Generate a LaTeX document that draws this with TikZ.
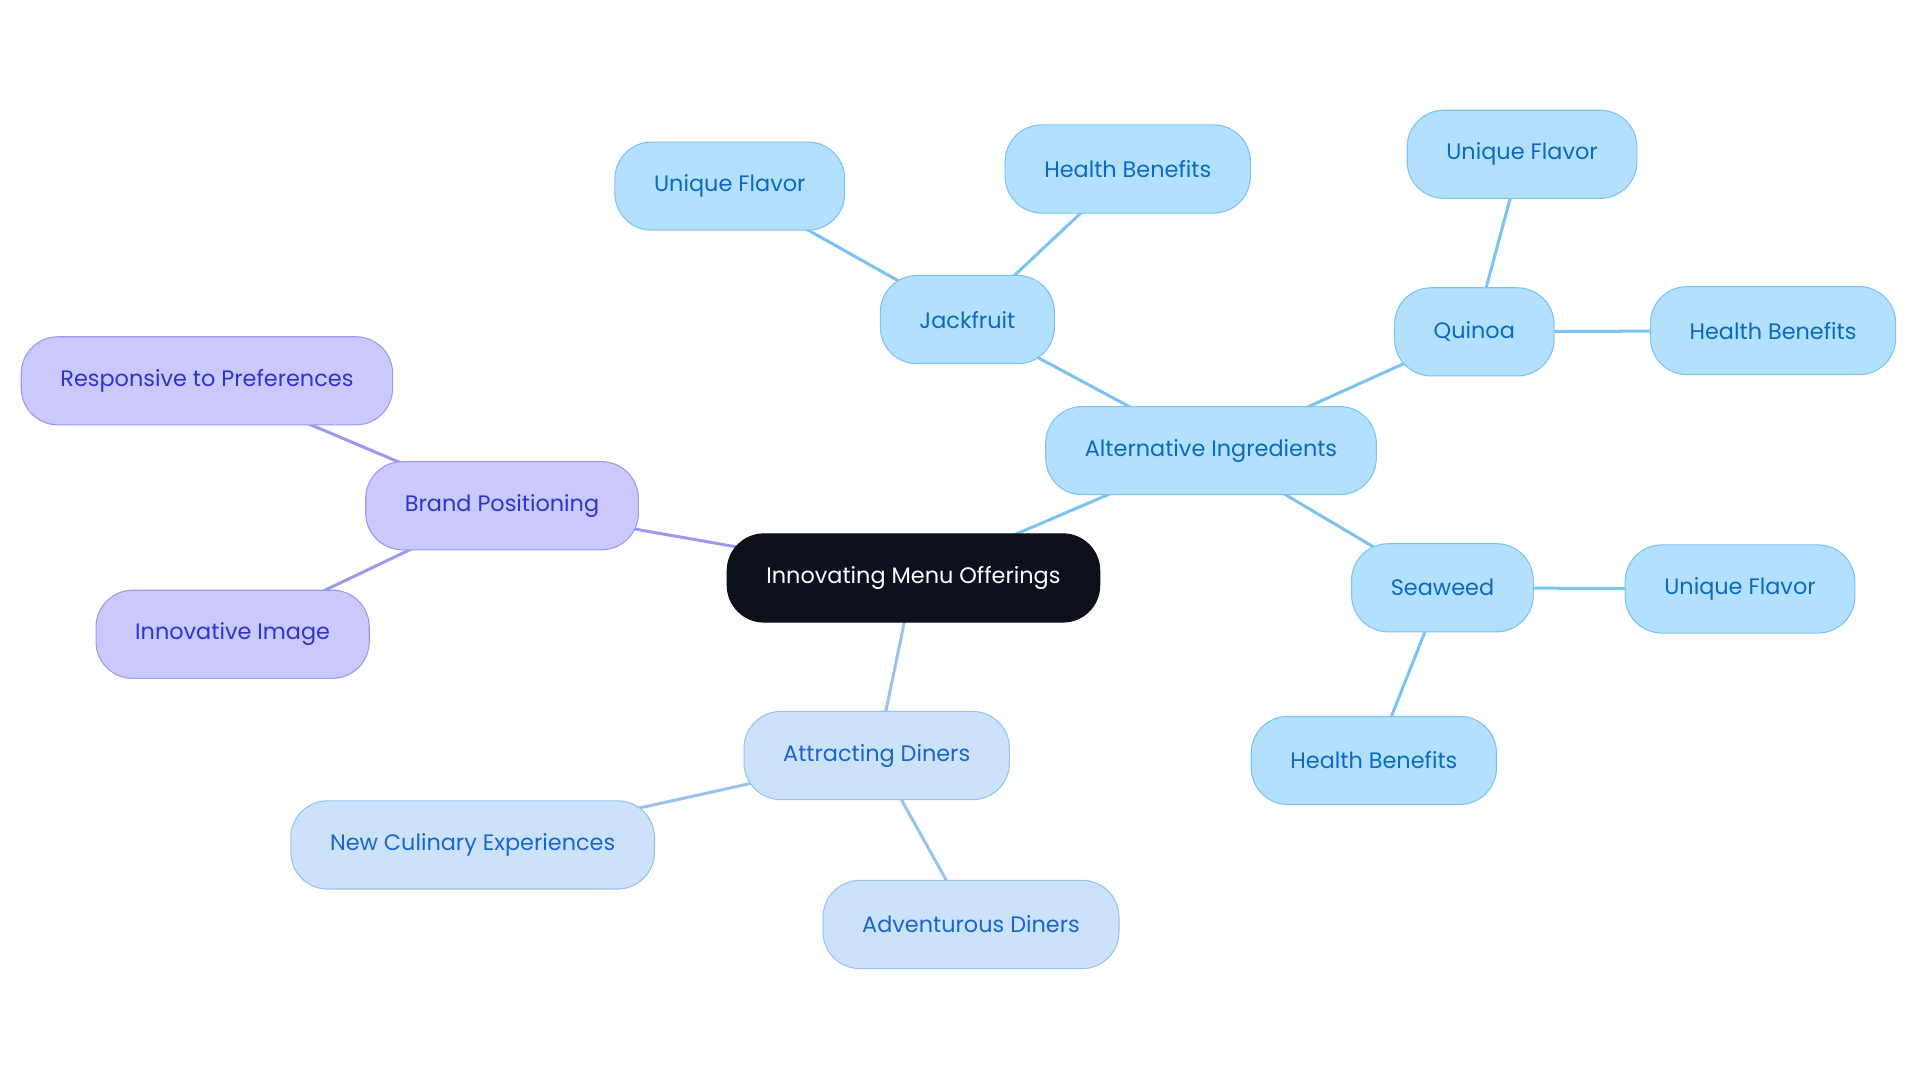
\documentclass[tikz,border=0pt]{standalone}
\usepackage{fontspec}
\setmainfont{Poppins}
\usetikzlibrary{backgrounds}
\definecolor{rootfill}{HTML}{0C111B}
\definecolor{bluefill}{HTML}{B3E0FE}
\definecolor{blueline}{HTML}{7DC3F2}
\definecolor{bluetext}{HTML}{0B6BC0}
\definecolor{violetfill}{HTML}{C9C9FC}
\definecolor{violetline}{HTML}{9A9AF0}
\definecolor{violettext}{HTML}{3333CC}
\definecolor{skyfill}{HTML}{CCE2FB}
\definecolor{skyline}{HTML}{98C3F0}
\definecolor{skytext}{HTML}{1A66CC}
\tikzset{
    %Define style for boxes
    idea/.style={
           rectangle,
           rounded corners=0.6cm,
           line width=0.5pt,
           minimum height=1.44cm,
           inner xsep=0.64cm,
           font=\fontsize{10.4}{12}\selectfont,
           text centered},
    rootbox/.style={
           idea,
           draw=rootfill,
           fill=rootfill,
           text=white},
    bluebox/.style={
           idea,
           draw=blueline,
           fill=bluefill,
           text=bluetext},
    violetbox/.style={
           idea,
           draw=violetline,
           fill=violetfill,
           text=violettext},
    skybox/.style={
           idea,
           draw=skyline,
           fill=skyfill,
           text=skytext},
    % Define line styles
    bluelink/.style={draw=blueline, line width=1.4pt},
    violetlink/.style={draw=violetline, line width=1.4pt},
    skylink/.style={draw=skyline, line width=1.4pt}
}
\begin{document}
\begin{tikzpicture}[x=0.02cm,y=-0.02cm]
\useasboundingbox (0,0) rectangle (1568,884.5);
\node[rootbox](menu) at (746,472){Innovating Menu Offerings};
\node[bluebox](alt) at (989,368){Alternative Ingredients};
\node[bluebox](jack) at (790,261){Jackfruit};
\node[bluebox](jackflavor) at (596,152){Unique Flavor};
\node[bluebox](jackhealth) at (921,138){Health Benefits};
\node[bluebox](quinoa) at (1204,271){Quinoa};
\node[bluebox](quinoaflavor) at (1243,126){Unique Flavor};
\node[bluebox](quinoahealth) at (1448,270){Health Benefits};
\node[bluebox](seaweed) at (1178,480){Seaweed};
\node[bluebox](seaweedflavor) at (1421,481){Unique Flavor};
\node[bluebox](seaweedhealth) at (1122,621){Health Benefits};
\node[violetbox](brand) at (410,413){Brand Positioning};
\node[violetbox](respond) at (169,311){Responsive to Preferences};
\node[violetbox](image) at (190,518){Innovative Image};
\node[skybox](attract) at (716,617){Attracting Diners};
\node[skybox](culinary) at (386,690){New Culinary Experiences};
\node[skybox](adventure) at (793,755){Adventurous Diners};
\begin{scope}[on background layer]
 \path[bluelink]
    (menu.center) edge (alt.center)
    (alt.center) edge (jack.center)
                 edge (quinoa.center)
                 edge (seaweed.center)
    (jack.center) edge (jackflavor.center)
                  edge (jackhealth.center)
    (quinoa.center) edge (quinoaflavor.center)
                    edge (quinoahealth.center)
    (seaweed.center) edge (seaweedflavor.center)
                     edge (seaweedhealth.center);
 \path[violetlink]
    (menu.center) edge (brand.center)
    (brand.center) edge (respond.center)
                   edge (image.center);
 \path[skylink]
    (menu.center) edge (attract.center)
    (attract.center) edge (culinary.center)
                     edge (adventure.center);
\end{scope}
\end{tikzpicture}
\end{document}
